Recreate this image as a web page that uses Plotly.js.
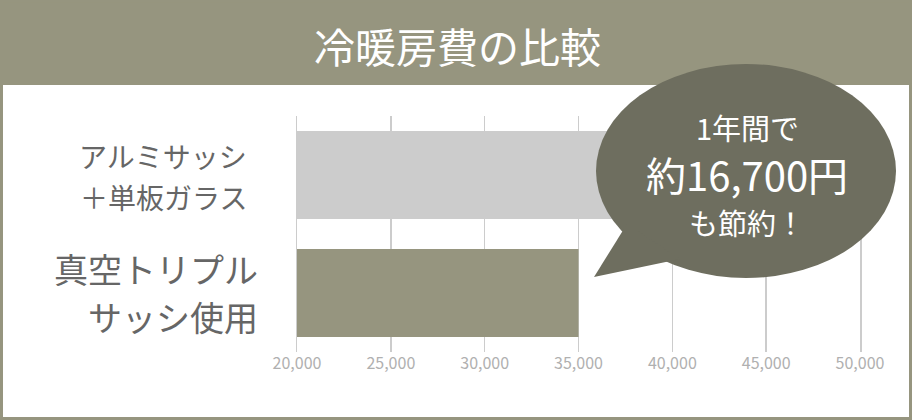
<!DOCTYPE html>
<html>
<head>
<meta charset="utf-8">
<script src="https://cdn.plot.ly/plotly-3.0.1.min.js"></script>
<style>
  html, body { margin: 0; padding: 0; background: #fff; }
  #graph { width: 912px; height: 420px; }
</style>
</head>
<body>
<div id="graph"></div>
<script>
// chart data
const categories = ["アルミサッシ<br>＋単板ガラス", "真空トリプル<br>サッシ使用"];
const costs = [48000, 35000];
const barColors = ["#cccccc", "#96957f"];
const tickVals = [20000, 25000, 30000, 35000, 40000, 45000, 50000];
const chartTitle = "冷暖房費の比較";
const bubbleLines = ["1年間で", "約16,700円", "も節約！"];

const W = 912, H = 420;
const L = 297, R = 52, T = 116, B = 68;
const plotW = W - L - R, plotH = H - T - B;

// pixel -> paper helpers for the decorations
function px(x) { return (x - L) / plotW; }
function py(y) { return (H - B - y) / plotH; }

const band = "#96957f";
const bubble = "#6e6e5f";
const jp = "Noto Sans CJK JP, Noto Sans, sans-serif";

function initPlot() {
    const annotations = [];

    annotations.push({
        text: chartTitle, xref: "paper", yref: "paper",
        x: px(457), y: py(45), xanchor: "center", yanchor: "middle",
        showarrow: false, font: { family: jp, size: 41, color: "#ffffff" }
    });

    // category labels, one annotation per line
    const labelSizes = [28, 34];
    const labelShift = [[19, -22], [25, -23]];
    const labelRight = [-48, -37];
    categories.forEach((c, i) => {
        c.split("<br>").forEach((line, j) => {
            annotations.push({
                text: line, xref: "paper", yref: "y",
                x: 0, y: c, xshift: labelRight[i], yshift: labelShift[i][j],
                xanchor: "right", yanchor: "middle", showarrow: false,
                font: { family: jp, size: labelSizes[i], color: "#666666" }
            });
        });
    });

    // bubble text
    const bubbleY = [127, 174, 222];
    const bubbleSize = [29, 40, 29];
    bubbleLines.forEach((t, i) => {
        annotations.push({
            text: t, xref: "paper", yref: "paper",
            x: px(747), y: py(bubbleY[i]), xanchor: "center", yanchor: "middle",
            borderpad: 0,
            showarrow: false, font: { family: jp, size: bubbleSize[i], color: "#ffffff" }
        });
    });

    const shapes = [
        // title band
        { type: "rect", xref: "paper", yref: "paper", layer: "above",
          x0: px(0), x1: px(W), y0: py(85), y1: py(0),
          fillcolor: band, line: { width: 0 } },
        // frame
        { type: "rect", xref: "paper", yref: "paper", layer: "above",
          x0: px(1.5), x1: px(W - 1.5), y0: py(H - 1.5), y1: py(1),
          line: { color: band, width: 3 } },
        // speech bubble
        { type: "circle", xref: "paper", yref: "paper", layer: "above",
          x0: px(596), x1: px(896), y0: py(278), y1: py(64),
          fillcolor: bubble, line: { width: 0 } },
        { type: "path", xref: "paper", yref: "paper", layer: "above",
          path: `M ${px(594)},${py(277)} L ${px(627)},${py(224)} L ${px(680)},${py(259)} Z`,
          fillcolor: bubble, line: { width: 0 } }
    ];

    const layout = {
        width: W, height: H,
        margin: { l: L, r: R, t: T, b: B, pad: 0 },
        paper_bgcolor: "#ffffff",
        plot_bgcolor: "#ffffff",
        showlegend: false,
        bargap: 0.255,
        xaxis: {
            range: [20000, 50000],
            tickvals: tickVals,
            tickformat: ",d",
            showgrid: true, gridcolor: "#cccccc", gridwidth: 1.5,
            zeroline: false, showline: false, ticks: "",
            tickfont: { family: jp, size: 16, color: "#b0b0b0" },
            fixedrange: true
        },
        yaxis: {
            type: "category",
            categoryarray: categories,
            range: [1.5, -0.5],
            showticklabels: false,
            showgrid: false, zeroline: false,
            showline: true, mirror: true, linecolor: "#cccccc", linewidth: 1.5,
            ticks: "", fixedrange: true
        },
        annotations: annotations,
        shapes: shapes
    };

    Plotly.newPlot("graph", [{
        type: "bar",
        orientation: "h",
        y: categories,
        x: costs,
        marker: { color: barColors, line: { width: 0 } },
        hoverinfo: "none"
    }], layout, { displayModeBar: false, staticPlot: true });
}

initPlot();
</script>
</body>
</html>
